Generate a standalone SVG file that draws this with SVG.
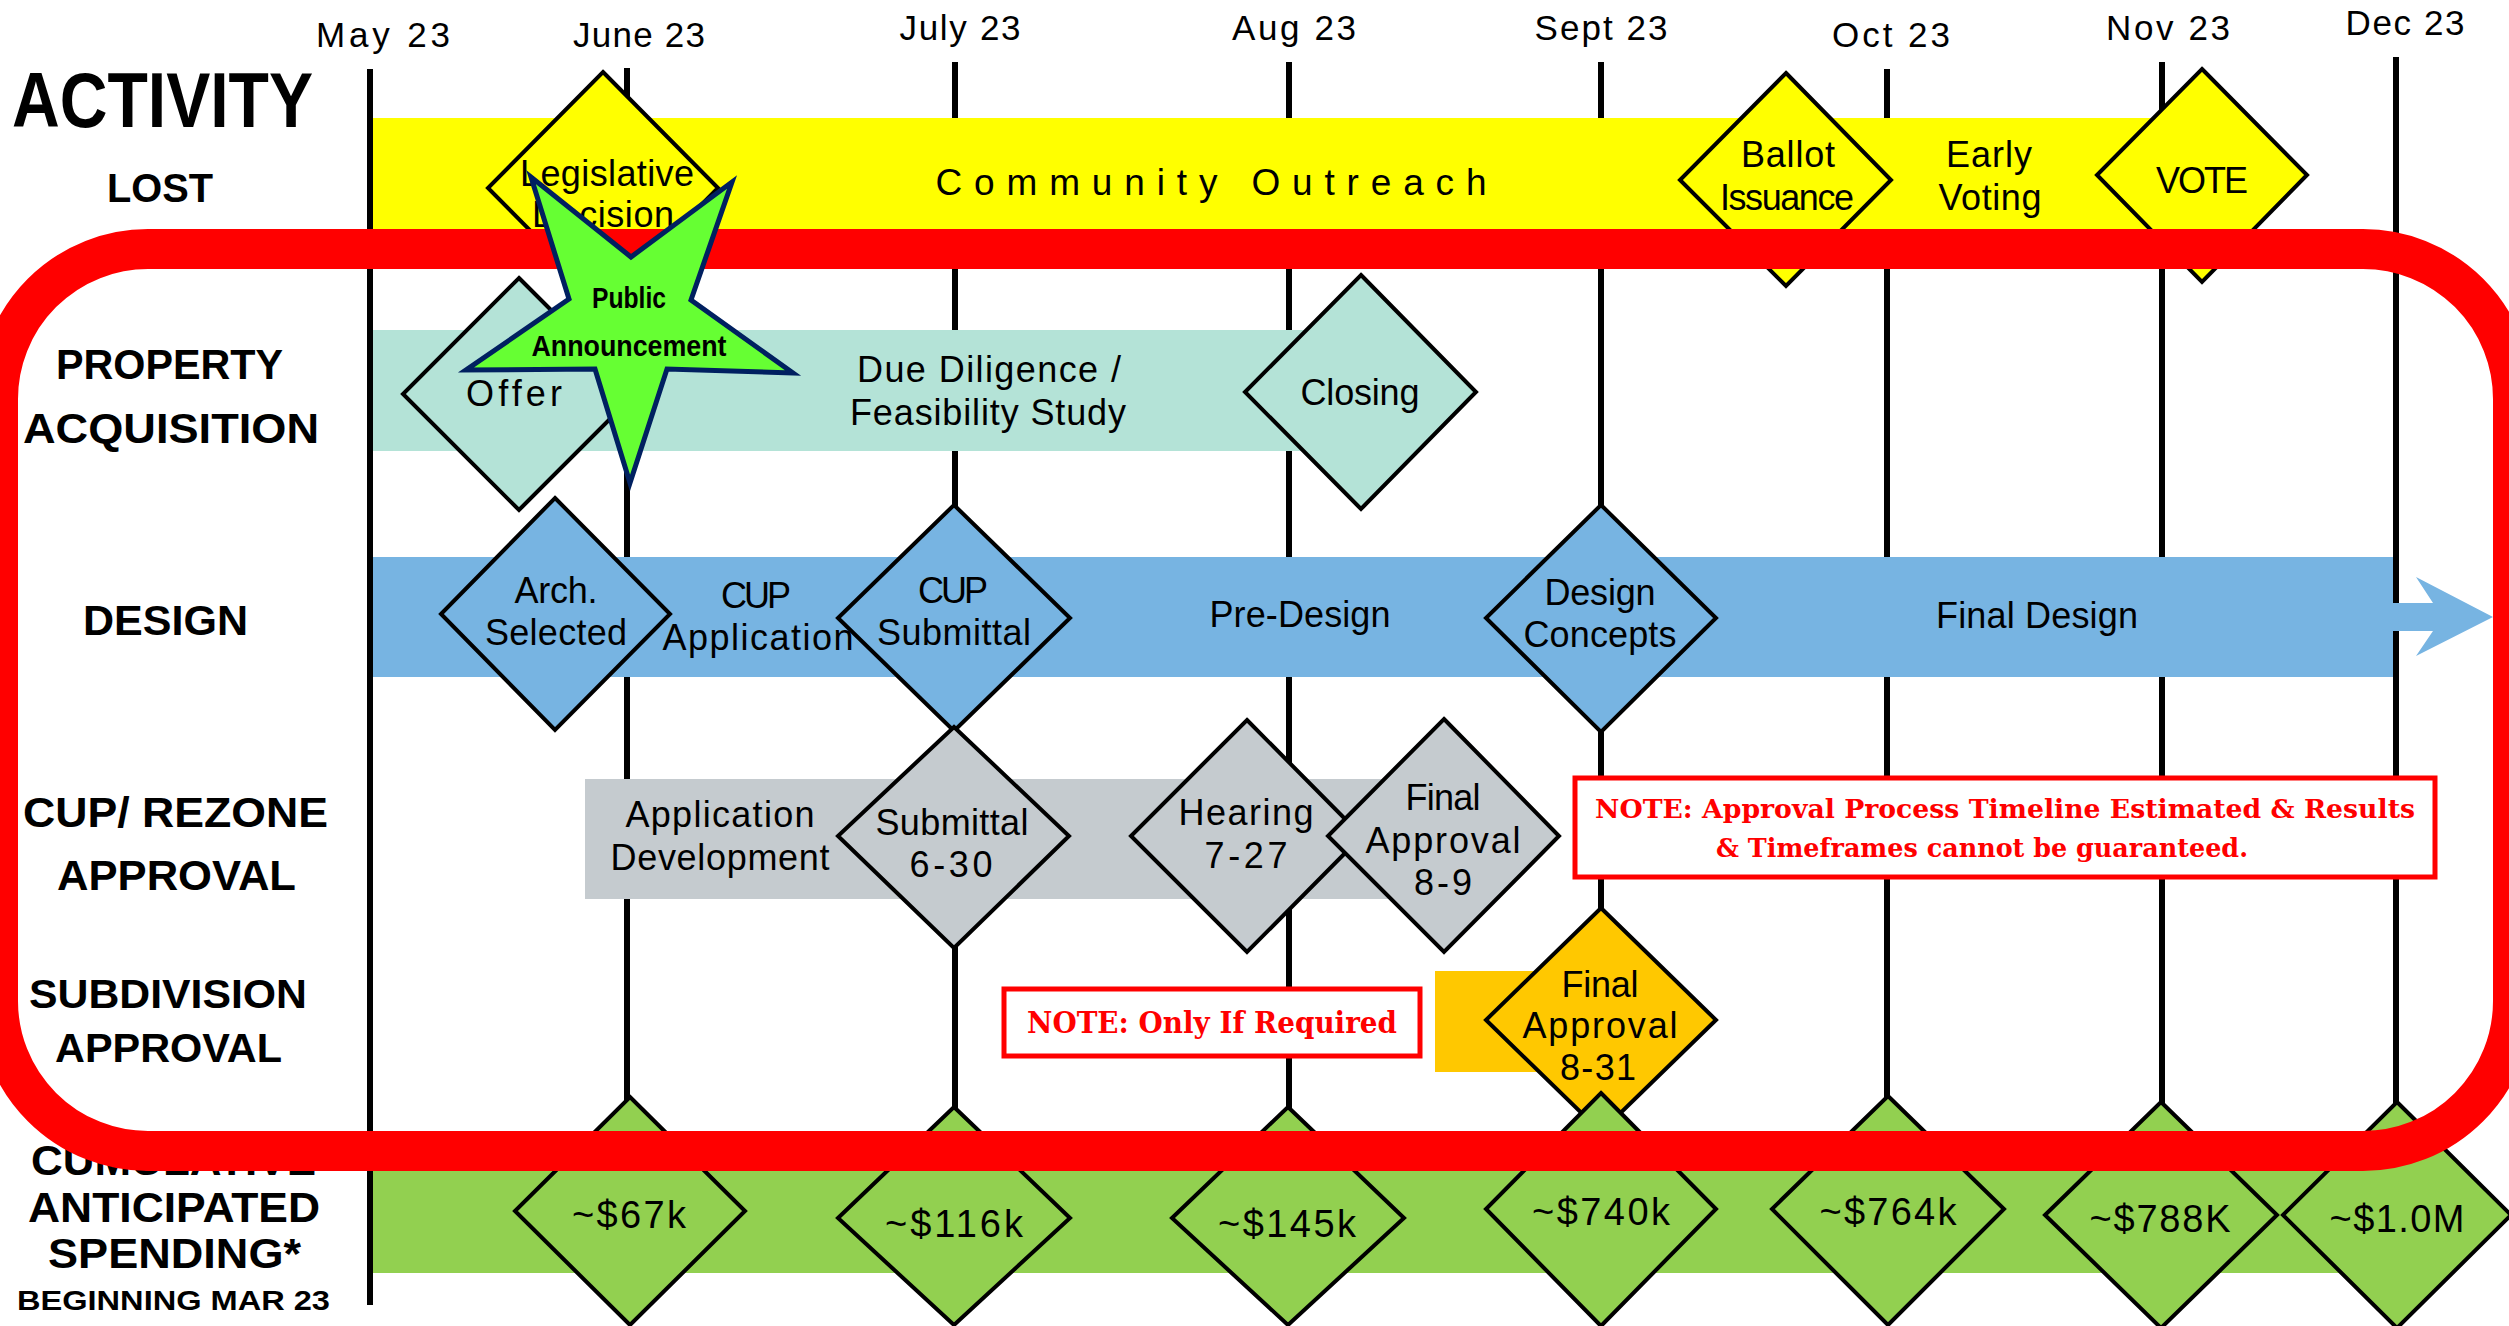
<svg xmlns="http://www.w3.org/2000/svg" width="2509" height="1326" viewBox="0 0 2509 1326">
<style>
.ml{stroke:#000;stroke-width:6;fill:none}
.mo{font-family:"Liberation Sans",Arial,sans-serif;font-size:35px;text-anchor:middle;fill:#000}
.hd{font-family:"Liberation Sans",Arial,sans-serif;font-weight:bold;font-size:43px;fill:#000}
.dm{stroke:#000;stroke-width:4;stroke-linejoin:miter}
.dt{font-family:"Liberation Sans",Arial,sans-serif;font-size:36px;text-anchor:middle;fill:#000}
.mt{font-size:38px}
.nt{font-family:"DejaVu Serif",serif;font-weight:bold;fill:#f00;font-size:26px}
.nb{fill:#fff;stroke:#f00;stroke-width:5}
.yl{fill:#ffff00}.mn{fill:#b4e3d7}.bl{fill:#77b4e2}.gr{fill:#c5cbcf}.gd{fill:#ffc800}.gn{fill:#92d050}
</style>
<rect width="2509" height="1326" fill="#fff"/>

<g id="month-lines">
<line class="ml" x1="627" y1="68" x2="627" y2="1200"/>
<line class="ml" x1="955" y1="62" x2="955" y2="1200"/>
<line class="ml" x1="1289" y1="62" x2="1289" y2="1200"/>
<line class="ml" x1="1601" y1="62" x2="1601" y2="1200"/>
<line class="ml" x1="1887" y1="69" x2="1887" y2="1200"/>
<line class="ml" x1="2162" y1="62" x2="2162" y2="1200"/>
<line class="ml" x1="2396" y1="57" x2="2396" y2="1200"/>
</g>

<g id="month-labels">
<text class="mo" x="383" y="47" textLength="134">May 23</text>
<text class="mo" x="639" y="47" textLength="132">June 23</text>
<text class="mo" x="960" y="40" textLength="121">July 23</text>
<text class="mo" x="1294" y="40" textLength="124">Aug 23</text>
<text class="mo" x="1601" y="40" textLength="133">Sept 23</text>
<text class="mo" x="1891" y="47" textLength="118">Oct 23</text>
<text class="mo" x="2168" y="40" textLength="124">Nov 23</text>
<text class="mo" x="2405" y="35" textLength="119">Dec 23</text>
</g>

<g id="bands">
<rect class="yl" x="372" y="118" width="1828" height="122"/>
<rect class="mn" x="372" y="330" width="958" height="121"/>
<rect class="bl" x="372" y="557" width="2021" height="120"/>
<polygon class="bl" points="2393,603 2433,603 2416,577 2493,617 2416,656 2433,631 2393,631"/>
<rect class="gr" x="585" y="779" width="835" height="120"/>
<rect class="gd" x="1435" y="971" width="135" height="101"/>
<rect class="gn" x="372" y="1150" width="2028" height="123"/>
</g>

<line id="axis" class="ml" x1="370" y1="69" x2="370" y2="1305"/>

<g id="row-labels">
<text class="hd" x="12" y="127" style="font-size:77px" textLength="301" lengthAdjust="spacingAndGlyphs">ACTIVITY</text>
<text class="hd" x="107" y="202" style="font-size:40px" textLength="106" lengthAdjust="spacingAndGlyphs">LOST</text>
<text class="hd" x="56" y="379" textLength="227" lengthAdjust="spacingAndGlyphs">PROPERTY</text>
<text class="hd" x="23" y="443" textLength="296" lengthAdjust="spacingAndGlyphs">ACQUISITION</text>
<text class="hd" x="83" y="635" textLength="165" lengthAdjust="spacingAndGlyphs">DESIGN</text>
<text class="hd" x="23" y="827" textLength="305" lengthAdjust="spacingAndGlyphs">CUP/ REZONE</text>
<text class="hd" x="57" y="890" textLength="239" lengthAdjust="spacingAndGlyphs">APPROVAL</text>
<text class="hd" x="29" y="1008" style="font-size:40px" textLength="278" lengthAdjust="spacingAndGlyphs">SUBDIVISION</text>
<text class="hd" x="55" y="1062" style="font-size:40px" textLength="227" lengthAdjust="spacingAndGlyphs">APPROVAL</text>
<text class="hd" x="31" y="1175" textLength="285" lengthAdjust="spacingAndGlyphs">CUMULATIVE</text>
<text class="hd" x="28" y="1222" textLength="292" lengthAdjust="spacingAndGlyphs">ANTICIPATED</text>
<text class="hd" x="48" y="1268" textLength="253" lengthAdjust="spacingAndGlyphs">SPENDING*</text>
<text class="hd" x="17" y="1310" style="font-size:27px" textLength="313" lengthAdjust="spacingAndGlyphs">BEGINNING MAR 23</text>
</g>

<g id="band-labels">
<text class="dt" x="1211" y="195" style="font-size:37px" textLength="551">Community Outreach</text>
<text class="dt" x="989" y="382" textLength="264">Due Diligence /</text>
<text class="dt" x="988" y="425" textLength="276">Feasibility Study</text>
<text class="dt" x="1989" y="167" textLength="86">Early</text>
<text class="dt" x="1990" y="210" textLength="103">Voting</text>
<text class="dt" x="756" y="608" textLength="70">CUP</text>
<text class="dt" x="758" y="650" textLength="191">Application</text>
<text class="dt" x="1300" y="627" textLength="181">Pre-Design</text>
<text class="dt" x="2037" y="628" textLength="202">Final Design</text>
<text class="dt" x="720" y="827" textLength="189">Application</text>
<text class="dt" x="720" y="870" textLength="219">Development</text>
</g>

<g id="legislative-decision">
<polygon class="dm yl" points="603,72 718,188 603,304 488,188"/>
<text class="dt" x="607" y="186" textLength="174">Legislative</text>
<text class="dt" x="603" y="227" textLength="142">Decision</text>
</g>
<g id="ballot-issuance">
<polygon class="dm yl" points="1786,73 1891,180 1786,286 1680,180"/>
<text class="dt" x="1788" y="167" textLength="94">Ballot</text>
<text class="dt" x="1787" y="210" textLength="134">Issuance</text>
</g>
<g id="vote">
<polygon class="dm yl" points="2202,69 2307,175 2202,282 2097,175"/>
<text class="dt" x="2202" y="193" textLength="92">VOTE</text>
</g>
<g id="offer">
<polygon class="dm mn" points="519,278 635,394 519,510 403,394"/>
<text class="dt" x="514" y="406" textLength="96">Offer</text>
</g>
<g id="closing">
<polygon class="dm mn" points="1361,275 1476,392 1361,509 1245,392"/>
<text class="dt" x="1360" y="405" textLength="119">Closing</text>
</g>
<g id="arch-selected">
<polygon class="dm bl" points="555,498 670,614 555,730 441,614"/>
<text class="dt" x="556" y="603" textLength="83">Arch.</text>
<text class="dt" x="556" y="645" textLength="142">Selected</text>
</g>
<g id="cup-submittal">
<polygon class="dm bl" points="954,505 1070,618 954,731 838,618"/>
<text class="dt" x="953" y="603" textLength="70">CUP</text>
<text class="dt" x="954" y="645" textLength="154">Submittal</text>
</g>
<g id="design-concepts">
<polygon class="dm bl" points="1601,505 1716,618 1601,732 1486,618"/>
<text class="dt" x="1600" y="605" textLength="111">Design</text>
<text class="dt" x="1600" y="647" textLength="153">Concepts</text>
</g>
<g id="submittal-6-30">
<polygon class="dm gr" points="954,727 1069,836 954,948 838,836"/>
<text class="dt" x="952" y="835" textLength="153">Submittal</text>
<text class="dt" x="951" y="877" textLength="83">6-30</text>
</g>
<g id="hearing-7-27">
<polygon class="dm gr" points="1247,720 1362,836 1247,952 1131,836"/>
<text class="dt" x="1246" y="825" textLength="135">Hearing</text>
<text class="dt" x="1246" y="868" textLength="83">7-27</text>
</g>
<g id="final-approval-8-9">
<polygon class="dm gr" points="1444,719 1559,836 1444,952 1328,836"/>
<text class="dt" x="1443" y="810" textLength="75">Final</text>
<text class="dt" x="1443" y="853" textLength="155">Approval</text>
<text class="dt" x="1443" y="895" textLength="58">8-9</text>
</g>
<g id="note-approval">
<rect class="nb" x="1575" y="778" width="860" height="99"/>
<text class="nt" x="1595" y="818" textLength="820" lengthAdjust="spacingAndGlyphs">NOTE: Approval Process Timeline Estimated &amp; Results</text>
<text class="nt" x="1982" y="857" text-anchor="middle" textLength="532" lengthAdjust="spacingAndGlyphs">&amp; Timeframes cannot be guaranteed.</text>
</g>
<g id="note-required">
<rect class="nb" x="1004" y="989" width="416" height="67"/>
<text class="nt" x="1212" y="1033" text-anchor="middle" style="font-size:29px" textLength="370" lengthAdjust="spacingAndGlyphs">NOTE: Only If Required</text>
</g>
<g id="final-approval-8-31">
<polygon class="dm gd" points="1601,908 1716,1020 1601,1132 1486,1020"/>
<text class="dt" x="1600" y="997" textLength="77">Final</text>
<text class="dt" x="1600" y="1038" textLength="155">Approval</text>
<text class="dt" x="1598" y="1080" textLength="76">8-31</text>
</g>
<g id="spend-67k">
<polygon class="dm gn" points="630,1097 745,1211 630,1325 515,1211"/>
<text class="dt mt" x="629" y="1228" textLength="114">~$67k</text>
</g>
<g id="spend-116k">
<polygon class="dm gn" points="954,1107 1070,1218 954,1325 838,1218"/>
<text class="dt mt" x="954" y="1237" textLength="138">~$116k</text>
</g>
<g id="spend-145k">
<polygon class="dm gn" points="1288,1107 1404,1218 1288,1325 1172,1218"/>
<text class="dt mt" x="1287" y="1237" textLength="138">~$145k</text>
</g>
<g id="spend-740k">
<polygon class="dm gn" points="1601,1093 1716,1209 1601,1326 1486,1209"/>
<text class="dt mt" x="1601" y="1225" textLength="138">~$740k</text>
</g>
<g id="spend-764k">
<polygon class="dm gn" points="1888,1096 2004,1209 1888,1325 1772,1209"/>
<text class="dt mt" x="1888" y="1225" textLength="137">~$764k</text>
</g>
<g id="spend-788k">
<polygon class="dm gn" points="2161,1102 2277,1215 2161,1328 2045,1215"/>
<text class="dt mt" x="2160" y="1232" textLength="141">~$788K</text>
</g>
<g id="spend-1m">
<polygon class="dm gn" points="2397,1102 2511,1215 2397,1328 2283,1215"/>
<text class="dt mt" x="2397" y="1232" textLength="135">~$1.0M</text>
</g>

<g id="highlight-frame">
<rect x="-2" y="249" width="2515" height="902" rx="150" ry="150" fill="none" stroke="#ff0000" stroke-width="40"/>
</g>

<g id="public-announcement">
<polygon points="630,483 595,369 466,370 569,299 531,177 631,257 732,182 691,300 793,373 667,369" fill="#66ff33" stroke="#002060" stroke-width="5" stroke-linejoin="miter"/>
<text x="629" y="308" font-family="'Liberation Sans',Arial,sans-serif" font-weight="bold" font-size="30" text-anchor="middle" textLength="74" lengthAdjust="spacingAndGlyphs">Public</text>
<text x="629" y="356" font-family="'Liberation Sans',Arial,sans-serif" font-weight="bold" font-size="30" text-anchor="middle" textLength="195" lengthAdjust="spacingAndGlyphs">Announcement</text>
</g>
</svg>
